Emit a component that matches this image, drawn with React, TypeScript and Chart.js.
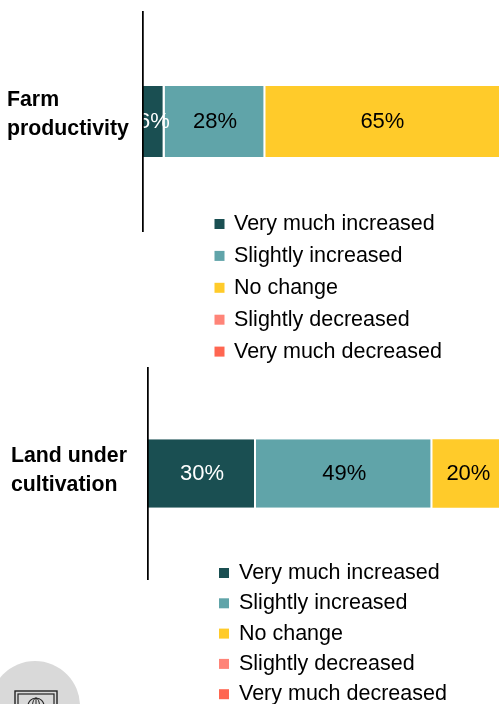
import React, { useEffect, useRef } from "react";
import { Chart, registerables } from "chart.js";

Chart.register(...registerables);

const responseLabels = [
  "Very much increased",
  "Slightly increased",
  "No change",
  "Slightly decreased",
  "Very much decreased",
];
const responseColors = ["#1A4F52", "#60A4A9", "#FFCB2A", "#FF8478", "#FF6651"];
const labelColors = ["#FFFFFF", "#000000", "#000000", "#000000", "#FFFFFF"];

const farmCategory = [["Farm", "productivity"]];
const farmValues = [6, 28, 65, 0, 0];

const landCategory = [["Land under", "cultivation"]];
const landValues = [30, 49, 20, 0, 0];

const FONT = '"Liberation Sans", Arial, sans-serif';

// Writes the percentage in the middle of every visible stacked segment.
const segmentLabels = {
  id: "segmentLabels",
  afterDatasetsDraw(chart: any) {
    const { ctx } = chart;
    ctx.save();
    ctx.font = `22px ${FONT}`;
    ctx.textAlign = "center";
    ctx.textBaseline = "middle";
    chart.data.datasets.forEach((ds: any, i: number) => {
      const value = ds.data[0];
      if (!value) return;
      const bar = chart.getDatasetMeta(i).data[0];
      ctx.fillStyle = labelColors[i];
      ctx.fillText(`${value}%`, (bar.x + bar.base) / 2, bar.y);
    });
    ctx.restore();
  },
};

// Vertical list of square swatches below the bar.
const stackedKey = {
  id: "stackedKey",
  afterDraw(chart: any, _args: any, opts: any) {
    const { ctx } = chart;
    ctx.save();
    ctx.font = `${opts.fontSize}px ${FONT}`;
    ctx.textBaseline = "middle";
    ctx.textAlign = "left";
    chart.data.datasets.forEach((ds: any, i: number) => {
      const y = opts.top + i * opts.pitch;
      ctx.fillStyle = ds.backgroundColor;
      ctx.fillRect(opts.swatchX, y - 5, 10, 10);
      ctx.fillStyle = "#000";
      ctx.fillText(ds.label, opts.textX, y);
    });
    ctx.restore();
  },
};

type PanelProps = {
  category: string[][];
  values: number[];
  top: number;
  width: number;
  height: number;
  paddingTop: number;
  paddingBottom: number;
  paddingLeft: number;
  axisWidth: number;
  labelShift: number;
  key_: any;
};

function Panel(p: PanelProps) {
  const ref = useRef<HTMLCanvasElement>(null);
  useEffect(() => {
    const chart = new Chart(ref.current!, {
      type: "bar",
      data: {
        labels: p.category as any,
        datasets: responseLabels.map((label, i) => ({
          label,
          data: [p.values[i]],
          backgroundColor: responseColors[i],
          borderColor: "#FFFFFF",
          // A white hairline closes a segment only when another one follows it.
          borderWidth: p.values[i + 1] ? { right: 2 } : 0,
          borderSkipped: false,
          categoryPercentage: 1,
          barPercentage: 0.324,
        })),
      },
      options: {
        indexAxis: "y",
        animation: false,
        responsive: false,
        events: [],
        layout: {
          padding: {
            top: p.paddingTop,
            bottom: p.paddingBottom,
            left: p.paddingLeft,
            right: 0,
          },
        },
        scales: {
          x: { display: false, stacked: true, min: 0, max: 100 },
          y: {
            stacked: true,
            afterFit: (s: any) => {
              s.width = p.axisWidth;
              // Tall two-line labels must not shrink the plot height.
              s.paddingTop = 0;
              s.paddingBottom = 0;
            },
            grid: { display: false },
            border: { display: true, color: "#000", width: 1.75, z: 1 },
            ticks: {
              crossAlign: "far",
              labelOffset: p.labelShift,
              color: "#000",
              font: { family: FONT, size: 21.3, weight: "bold", lineHeight: 1.36 },
            },
          },
        },
        plugins: {
          legend: { display: false },
          tooltip: { enabled: false },
          stackedKey: p.key_,
        },
      } as any,
      plugins: [segmentLabels, stackedKey],
    });
    return () => chart.destroy();
  }, []);
  return (
    <canvas
      ref={ref}
      width={p.width}
      height={p.height}
      style={{ position: "absolute", left: 0, top: p.top, width: p.width, height: p.height }}
    />
  );
}

// Round badge with a small monitor and globe, cut off by the page edge.
function Badge() {
  return (
    <svg
      width={90}
      height={50}
      viewBox="0 0 90 50"
      style={{ position: "absolute", left: 0, top: 654 }}
    >
      <circle cx={35} cy={52} r={45} fill="#D9D9D9" />
      <rect x={15} y={37} width={42} height={20} fill="none" stroke="#222" strokeWidth={1.4} />
      <rect x={18} y={40} width={36} height={20} fill="none" stroke="#222" strokeWidth={1.2} />
      <circle cx={36} cy={52} r={8} fill="none" stroke="#222" strokeWidth={1.2} />
      <ellipse cx={36} cy={52} rx={3.5} ry={8} fill="none" stroke="#222" strokeWidth={1} />
      <line x1={36} y1={44} x2={36} y2={50} stroke="#222" strokeWidth={1} />
    </svg>
  );
}

export default function App() {
  return (
    <div
      style={{
        position: "fixed",
        left: 0,
        top: 0,
        width: 499,
        height: 704,
        overflow: "hidden",
        background: "#fff",
      }}
    >
      <Panel
        category={farmCategory}
        values={farmValues}
        top={0}
        width={503}
        height={365}
        paddingTop={12}
        paddingBottom={134}
        paddingLeft={7}
        axisWidth={136}
        labelShift={-7}
        key_={{ swatchX: 214.5, textX: 234, top: 224, pitch: 31.9, fontSize: 21.5 }}
      />
      <Panel
        category={landCategory}
        values={landValues}
        top={360}
        width={508}
        height={344}
        paddingTop={8}
        paddingBottom={125}
        paddingLeft={11}
        axisWidth={137}
        labelShift={-3}
        key_={{ swatchX: 219, textX: 239, top: 213, pitch: 30.3, fontSize: 21.5 }}
      />
      <Badge />
    </div>
  );
}
